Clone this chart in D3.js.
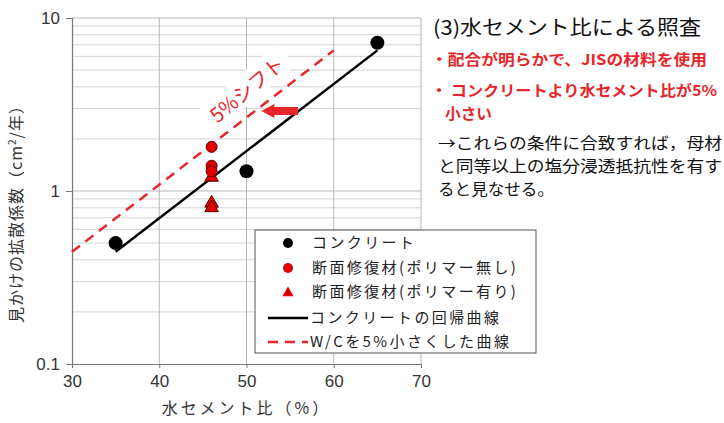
<!DOCTYPE html>
<html>
<head>
<meta charset="utf-8">
<script src="https://cdn.jsdelivr.net/npm/d3@7"></script>
<style>
    body { margin: 0; background: #fff; }
    svg { display: block; font-family: "Noto Sans CJK JP", "Noto Sans", sans-serif; }
</style>
</head>
<body>
<div id="viz"></div>
<script>
// data
const concreteWC = [35, 50, 65];
const concreteD = [0.5, 1.3, 7.2];
const repairNoPolyWC = [46, 46, 46];
const repairNoPolyD = [1.8, 1.4, 1.3];
const repairPolyWC = [46, 46, 46];
const repairPolyD = [1.2, 0.85, 0.8];
const fitWC = [35, 65];
const fitD = [0.445, 6.5];
const shiftWC = 5;
const xTicks = [30, 40, 50, 60, 70];
const yTicks = [0.1, 1, 10];
const legendLabels = ["コンクリート", "断面修復材(ポリマー無し)", "断面修復材(ポリマー有り)", "コンクリートの回帰曲線", "W/Cを5%小さくした曲線"];
const titleText = "(3)水セメント比による照査";
const redNotes = ["・配合が明らかで、JISの材料を使用", "・ コンクリートより水セメント比が5%", "小さい"];
const blackNotes = ["→これらの条件に合致すれば，母材", "と同等以上の塩分浸透抵抗性を有す", "ると見なせる。"];

drawChart();

function drawChart() {
    const width = 724, height = 423;
    const red = "#e6262b";

    const svg = d3.select("#viz").append("svg")
        .attr("width", width)
        .attr("height", height);

    const x = d3.scaleLinear().domain([30, 70]).range([72, 421]);
    const y = d3.scaleLog().domain([0.1, 10]).range([364, 18]);

    // minor grid (log)
    let minor = [];
    [0.1, 1].forEach(dec => { for (let k = 2; k <= 9; k++) minor.push(dec * k); });
    svg.append("g").selectAll("line").data(minor).enter().append("line")
        .attr("x1", x(30)).attr("x2", x(70))
        .attr("y1", d => y(d)).attr("y2", d => y(d))
        .attr("stroke", "#d4d4d4").attr("stroke-width", 1);
    svg.append("g").selectAll("line").data([1, 10]).enter().append("line")
        .attr("x1", x(30)).attr("x2", x(70))
        .attr("y1", d => y(d)).attr("y2", d => y(d))
        .attr("stroke", "#b8b8b8").attr("stroke-width", 1);
    svg.append("g").selectAll("line").data(xTicks.slice(1)).enter().append("line")
        .attr("x1", d => x(d)).attr("x2", d => x(d))
        .attr("y1", y(10)).attr("y2", y(0.1))
        .attr("stroke", "#b8b8b8").attr("stroke-width", 1);

    // axes
    const xAxis = svg.append("g")
        .attr("transform", "translate(0," + y(0.1) + ")")
        .call(d3.axisBottom(x).tickValues(xTicks).tickSize(4).tickPadding(7));
    const yAxis = svg.append("g")
        .attr("transform", "translate(" + x(30) + ",0)")
        .call(d3.axisLeft(y).tickValues(yTicks).tickSize(6).tickPadding(6)
            .tickFormat(d => d < 1 ? "0.1" : String(d)));
    [xAxis, yAxis].forEach(a => {
        a.select(".domain").attr("stroke", "#777").attr("stroke-width", 1.2);
        a.selectAll(".tick line").attr("stroke", "#777");
        a.selectAll(".tick text").attr("fill", "#333").style("font-size", "17px")
            .style("font-family", "'Liberation Sans Narrow', 'Liberation Sans', Arial, sans-serif");
    });

    svg.append("text")
        .attr("x", x(50)).attr("y", 414)
        .attr("text-anchor", "middle")
        .attr("fill", "#333")
        .attr("letter-spacing", "3px")
        .style("font-size", "16px")
        .text("水セメント比（%）");

    svg.append("text")
        .attr("transform", "translate(22," + 210 + ") rotate(-90)")
        .attr("text-anchor", "middle")
        .attr("fill", "#333")
        .attr("letter-spacing", "1px")
        .style("font-size", "16px")
        .html("見かけの拡散係数（cm<tspan dy='-6' font-size='10px'>2</tspan><tspan dy='6'>/年）</tspan>");

    // regression lines
    const line = d3.line().x(d => x(d[0])).y(d => y(d[1]));
    const fitPts = fitWC.map((w, i) => [w, fitD[i]]);
    const shiftPts = fitWC.map((w, i) => [w - shiftWC, fitD[i]]);

    // label for shift, white box behind
    const lx = x(50.1), ly = y(3.85);
    const lab = svg.append("g").attr("transform", "translate(" + lx + "," + ly + ") rotate(-40)");
    lab.append("rect").attr("x", -52).attr("y", -16).attr("width", 104).attr("height", 28).attr("fill", "#fff");
    lab.append("text")
        .attr("text-anchor", "middle").attr("dy", "0.35em")
        .attr("fill", red)
        .style("font-size", "20px")
        .text("5%シフト");

    svg.append("path").datum(shiftPts)
        .attr("d", line)
        .attr("fill", "none").attr("stroke", red)
        .attr("stroke-width", 2.5).attr("stroke-dasharray", "10,7");
    svg.append("path").datum(fitPts)
        .attr("d", line)
        .attr("fill", "none").attr("stroke", "#000")
        .attr("stroke-width", 2.5);

    // arrow
    const ay = y(2.9), ax0 = x(55.9), ax1 = x(51.7);
    svg.append("path")
        .attr("d", "M" + ax0 + "," + (ay - 4) + "L" + (ax1 + 13) + "," + (ay - 4) + "L" + (ax1 + 13) + "," + (ay - 7)
            + "L" + ax1 + "," + ay + "L" + (ax1 + 13) + "," + (ay + 7) + "L" + (ax1 + 13) + "," + (ay + 4)
            + "L" + ax0 + "," + (ay + 4) + "Z")
        .attr("fill", red);

    // points
    svg.append("g").selectAll("circle").data(concreteWC).enter().append("circle")
        .attr("cx", d => x(d)).attr("cy", (d, i) => y(concreteD[i]))
        .attr("r", 7).attr("fill", "#000");
    const tri = d3.symbol().type(d3.symbolTriangle).size(80);
    svg.append("g").selectAll("path").data(repairPolyWC).enter().append("path")
        .attr("d", tri)
        .attr("transform", (d, i) => "translate(" + x(d) + "," + y(repairPolyD[i]) + ")")
        .attr("fill", "#e00000").attr("stroke", "#5a0000").attr("stroke-width", 1);
    svg.append("g").selectAll("circle").data(repairNoPolyWC).enter().append("circle")
        .attr("cx", d => x(d)).attr("cy", (d, i) => y(repairNoPolyD[i]))
        .attr("r", 5.5).attr("fill", "#e00000").attr("stroke", "#5a0000").attr("stroke-width", 1);

    // legend
    const lg = svg.append("g").attr("transform", "translate(255,230)");
    lg.append("rect").attr("width", 281).attr("height", 123)
        .attr("fill", "#fff").attr("stroke", "#555").attr("stroke-width", 1);
    const rowY = [13, 38, 62, 88, 112];
    legendLabels.forEach((t, i) => {
        const g = lg.append("g").attr("transform", "translate(0," + rowY[i] + ")");
        if (i == 0) g.append("circle").attr("cx", 33).attr("r", 5).attr("fill", "#000");
        if (i == 1) g.append("circle").attr("cx", 33).attr("r", 5).attr("fill", "#e00000");
        if (i == 2) g.append("path").attr("d", d3.symbol().type(d3.symbolTriangle).size(55))
            .attr("transform", "translate(33,1)").attr("fill", "#e00000");
        if (i == 3) g.append("line").attr("x1", 13).attr("x2", 53).attr("stroke", "#000").attr("stroke-width", 2.5);
        if (i == 4) g.append("line").attr("x1", 13).attr("x2", 53).attr("stroke", red)
            .attr("stroke-width", 2.5).attr("stroke-dasharray", "10,7");
        g.append("text").attr("x", i >= 3 ? 55 : 57).attr("dy", "0.36em")
            .attr("fill", "#222").style("font-size", "15px")
            .attr("letter-spacing", "2.4px")
            .text(t);
    });

    // right side notes
    svg.append("text").attr("x", 433).attr("y", 35)
        .attr("fill", "#111").style("font-size", "20px")
        .attr("textLength", 268).attr("lengthAdjust", "spacingAndGlyphs")
        .text(titleText);
    const redY = [65, 96, 119], redX = [431, 431, 445], redLen = [276, 286, 47];
    redNotes.forEach((t, i) => {
        svg.append("text").attr("x", redX[i]).attr("y", redY[i])
            .attr("fill", red).style("font-size", "15px").style("font-weight", "bold")
            .attr("textLength", redLen[i]).attr("lengthAdjust", "spacingAndGlyphs")
            .text(t);
    });
    const blkY = [149, 172, 195];
    blackNotes.forEach((t, i) => {
        svg.append("text").attr("x", 438).attr("y", blkY[i])
            .attr("fill", "#111").style("font-size", "16px")
            .attr("textLength", i == 2 ? 116 : 284).attr("lengthAdjust", "spacingAndGlyphs")
            .text(t);
    });
}
</script>
</body>
</html>
